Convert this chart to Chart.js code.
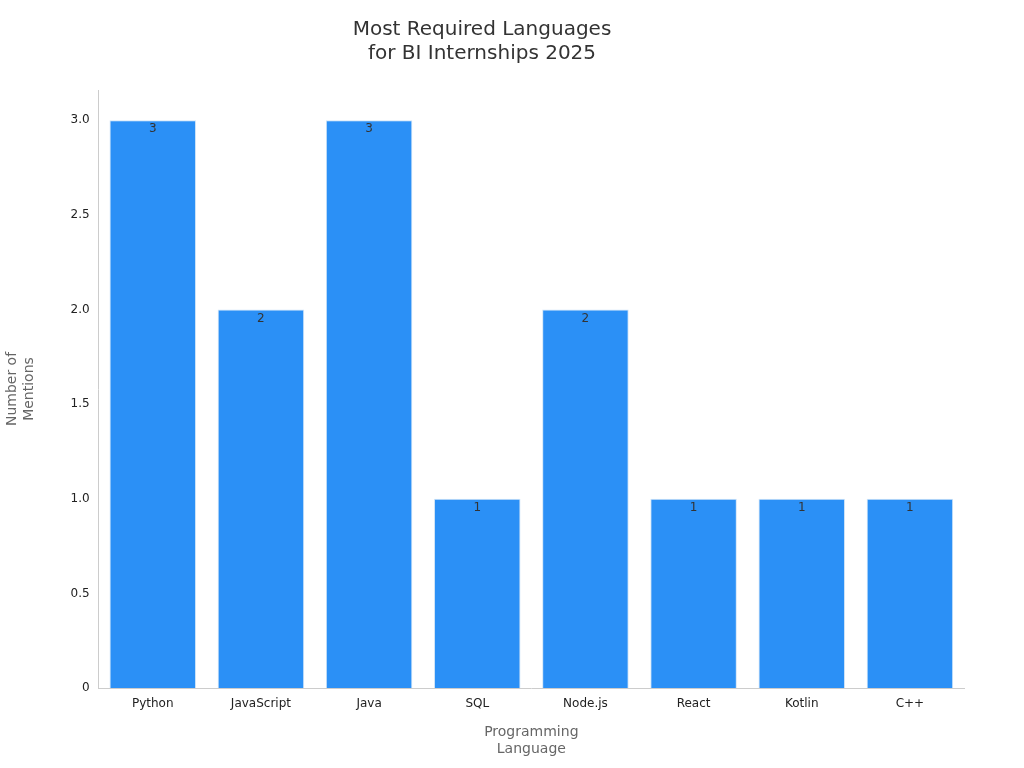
<!DOCTYPE html>
<html>
<head>
<meta charset="utf-8">
<script src="https://cdn.jsdelivr.net/npm/chart.js@4"></script>
<style>
  html, body { margin: 0; padding: 0; background: #fff; }
  #wrap { width: 1024px; height: 768px; }
</style>
</head>
<body>
<div id="wrap"><canvas id="chart"></canvas></div>
<script>
const languages = ['Python', 'JavaScript', 'Java', 'SQL', 'Node.js', 'React', 'Kotlin', 'C++'];
const mentions = [3, 2, 3, 1, 2, 1, 1, 1];

// draw the value just inside the top of each bar
const valueLabels = {
  id: 'valueLabels',
  afterDatasetsDraw(chart) {
    const ctx = chart.ctx;
    ctx.save();
    ctx.font = '12px "DejaVu Sans"';
    ctx.fillStyle = '#333';
    ctx.textAlign = 'center';
    ctx.textBaseline = 'top';
    chart.getDatasetMeta(0).data.forEach((bar, i) => {
      ctx.fillText(mentions[i], bar.x, bar.y + 3);
    });
    ctx.restore();
  }
};

Chart.defaults.font.family = '"DejaVu Sans", sans-serif';

new Chart(document.getElementById('chart'), {
  type: 'bar',
  data: {
    labels: languages,
    datasets: [{
      data: mentions,
      backgroundColor: '#2b90f6',
      borderColor: '#d0e4f7',
      borderWidth: 1,
      barPercentage: 0.8,
      categoryPercentage: 1
    }]
  },
  options: {
    responsive: true,
    maintainAspectRatio: false,
    animation: false,
    layout: { padding: { left: 0, right: 60, top: 10, bottom: 6 } },
    plugins: {
      legend: { display: false },
      tooltip: { enabled: false },
      title: {
        display: true,
        text: ['Most Required Languages', 'for BI Internships 2025'],
        color: '#333',
        font: { size: 20, weight: 'normal' },
        padding: { top: 8, bottom: 24 }
      }
    },
    scales: {
      x: {
        grid: { display: false, drawTicks: true, tickLength: 6 },
        border: { color: '#ccc' },
        ticks: { color: '#222', font: { size: 12 } },
        title: {
          display: true,
          text: ['Programming', 'Language'],
          color: '#666',
          font: { size: 14 },
          padding: { top: 10 }
        }
      },
      y: {
        min: 0,
        max: 3.16,
        afterBuildTicks(axis) {
          axis.ticks = [0, 0.5, 1, 1.5, 2, 2.5, 3].map(v => ({ value: v }));
        },
        grid: { display: false, drawTicks: true, tickLength: 6 },
        border: { color: '#ccc' },
        ticks: { color: '#222', font: { size: 12 } },
        title: {
          display: true,
          text: ['Number of', 'Mentions'],
          color: '#666',
          font: { size: 14 },
          padding: { bottom: 30 }
        }
      }
    }
  },
  plugins: [valueLabels]
});
</script>
</body>
</html>
